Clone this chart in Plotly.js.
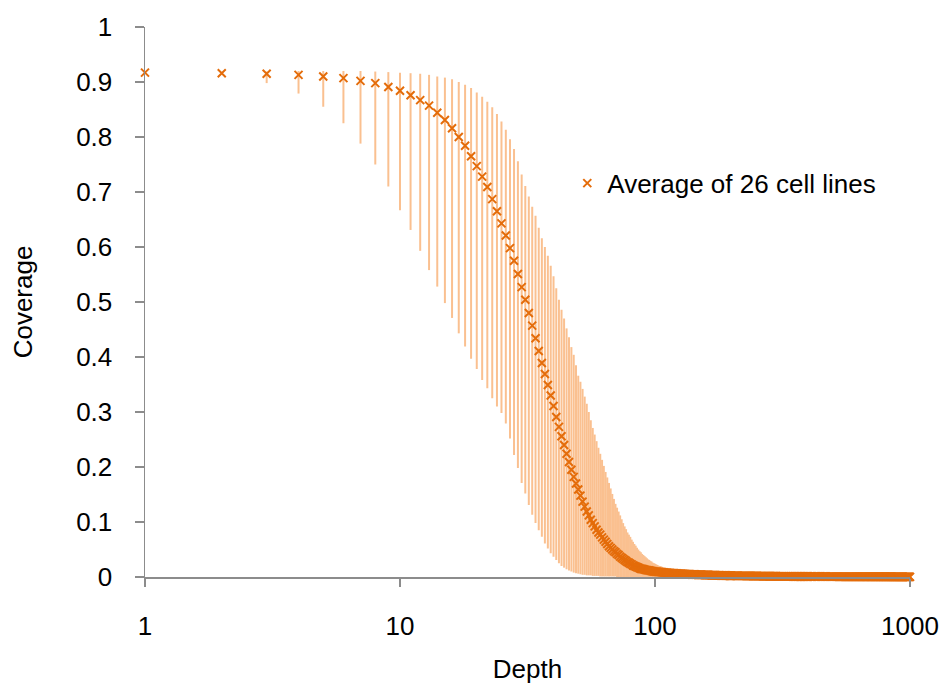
<!DOCTYPE html>
<html>
<head>
<meta charset="utf-8">
<script src="https://cdn.plot.ly/plotly-3.0.1.min.js"></script>
<style>
html,body{margin:0;padding:0;background:#fff;}
#chart{width:943px;height:686px;}
</style>
</head>
<body>
<div id="chart"></div>
<script>
// Sequencing depth (x, log scale)
var depth = [
1,2,3,4,5,6,7,8,9,10,11,12,13,14,15,16,17,18,19,20,
21,22,23,24,25,26,27,28,29,30,31,32,33,34,35,36,37,38,39,40,
41,42,43,44,45,46,47,48,49,50,51,52,53,54,55,56,57,58,59,60,
61,62,63,64,65,66,67,68,69,70,71,72,73,74,75,76,77,78,79,80,
81,82,83,84,85,86,87,88,89,90,91,92,93,94,95,96,97,98,99,100,
101,102,103,104,105,106,107,108,109,110,111,112,113,114,115,116,117,118,119,120,
121,122,123,124,125,126,127,128,129,130,131,132,133,134,135,136,137,138,139,140,
141,142,143,144,145,146,147,148,149,150,151,152,153,154,155,156,157,158,159,160,
161,162,163,164,165,166,167,168,169,170,171,172,173,174,175,176,177,178,179,180,
181,182,183,184,185,186,187,188,189,190,191,192,193,194,195,196,197,198,199,200,
202,204,206,208,210,212,214,216,218,220,222,224,226,228,230,232,234,236,238,240,
242,244,246,248,250,252,254,256,258,260,262,264,266,268,270,272,274,276,278,280,
282,284,286,288,290,292,294,296,298,300,302,304,306,308,310,312,314,316,318,320,
322,324,326,328,330,332,334,336,338,340,342,344,346,348,350,352,354,356,358,360,
362,364,366,368,370,372,374,376,378,380,382,384,386,388,390,392,394,396,398,400,
405,410,415,420,425,430,435,440,445,450,455,460,465,470,475,480,485,490,495,500,
505,510,515,520,525,530,535,540,545,550,555,560,565,570,575,580,585,590,595,600,
605,610,615,620,625,630,635,640,645,650,655,660,665,670,675,680,685,690,695,700,
705,710,715,720,725,730,735,740,745,750,755,760,765,770,775,780,785,790,795,800,
805,810,815,820,825,830,835,840,845,850,855,860,865,870,875,880,885,890,895,900,
905,910,915,920,925,930,935,940,945,950,955,960,965,970,975,980,985,990,995,1000
];

// Average coverage of 26 cell lines
var avgCoverage = [
0.917,0.916,0.915,0.913,0.910,0.907,0.902,0.898,0.891,0.884,
0.876,0.867,0.857,0.844,0.831,0.816,0.800,0.784,0.765,0.747,
0.728,0.709,0.687,0.665,0.643,0.621,0.598,0.575,0.551,0.527,
0.504,0.480,0.457,0.434,0.411,0.389,0.369,0.349,0.330,0.311,
0.291,0.273,0.256,0.240,0.224,0.209,0.195,0.182,0.170,0.159,
0.148,0.137,0.128,0.119,0.112,0.104,0.098,0.092,0.086,0.081,
0.077,0.072,0.068,0.064,0.060,0.056,0.053,0.050,0.047,0.045,
0.042,0.040,0.037,0.035,0.033,0.031,0.029,0.027,0.026,0.024,
0.023,0.021,0.020,0.019,0.018,0.017,0.016,0.015,0.0145,0.014,
0.0135,0.013,0.0125,0.012,0.0118,0.0115,0.011,0.0105,0.010,0.0098,
0.0096,0.0094,0.0092,0.0090,0.0088,0.0087,0.0085,0.0083,0.0082,0.0080,
0.0078,0.0077,0.0075,0.0074,0.0072,0.0071,0.0069,0.0068,0.0067,0.0066,
0.0064,0.0063,0.0062,0.0061,0.0060,0.0059,0.0058,0.0057,0.0056,0.0055,
0.0054,0.0053,0.0052,0.0051,0.0050,0.0050,0.0049,0.0048,0.0047,0.0047,
0.0046,0.0045,0.0045,0.0044,0.0043,0.0043,0.0042,0.0042,0.0041,0.0041,
0.0040,0.0040,0.0039,0.0039,0.0038,0.0038,0.0037,0.0037,0.0036,0.0036,
0.0035,0.0035,0.0034,0.0034,0.0034,0.0033,0.0033,0.0033,0.0032,0.0032,
0.0031,0.0031,0.0031,0.0030,0.0030,0.0030,0.0029,0.0029,0.0029,0.0029,
0.0028,0.0028,0.0028,0.0027,0.0027,0.0027,0.0027,0.0026,0.0026,0.0026,
0.0026,0.0025,0.0025,0.0025,0.0025,0.0024,0.0024,0.0024,0.0024,0.0024,
0.0023,0.0023,0.0023,0.0022,0.0022,0.0022,0.0021,0.0021,0.0021,0.0020,
0.0020,0.0020,0.0020,0.0019,0.0019,0.0019,0.0019,0.0018,0.0018,0.0018,
0.0018,0.0017,0.0017,0.0017,0.0017,0.0017,0.0016,0.0016,0.0016,0.0016,
0.0016,0.0015,0.0015,0.0015,0.0015,0.0015,0.0015,0.0014,0.0014,0.0014,
0.0014,0.0014,0.0014,0.0013,0.0013,0.0013,0.0013,0.0013,0.0013,0.0013,
0.0012,0.0012,0.0012,0.0012,0.0012,0.0012,0.0012,0.0012,0.0012,0.0012,
0.0011,0.0011,0.0011,0.0011,0.0011,0.0011,0.0011,0.0011,0.0011,0.0011,
0.0011,0.0011,0.0011,0.0010,0.0010,0.0010,0.0010,0.0010,0.0010,0.0010,
0.0010,0.0010,0.0010,0.0010,0.0010,0.0010,0.0010,0.0010,0.0010,0.0010,
0.0009,0.0009,0.0009,0.0009,0.0009,0.0009,0.0009,0.0009,0.0009,0.0009,
0.0009,0.0009,0.0009,0.0008,0.0008,0.0008,0.0008,0.0008,0.0008,0.0008,
0.0008,0.0008,0.0008,0.0008,0.0007,0.0007,0.0007,0.0007,0.0007,0.0007,
0.0007,0.0007,0.0007,0.0007,0.0006,0.0006,0.0006,0.0006,0.0006,0.0006,
0.0006,0.0006,0.0006,0.0006,0.0006,0.0006,0.0006,0.0006,0.0006,0.0006,
0.0005,0.0005,0.0005,0.0005,0.0005,0.0005,0.0005,0.0005,0.0005,0.0005,
0.0005,0.0005,0.0005,0.0005,0.0005,0.0005,0.0005,0.0005,0.0005,0.0005,
0.0004,0.0004,0.0004,0.0004,0.0004,0.0004,0.0004,0.0004,0.0004,0.0004,
0.0004,0.0004,0.0004,0.0004,0.0004,0.0004,0.0004,0.0004,0.0004,0.0004,
0.0004,0.0004,0.0004,0.0004,0.0004,0.0004,0.0004,0.0004,0.0004,0.0004,
0.0003,0.0003,0.0003,0.0003,0.0003,0.0003,0.0003,0.0003,0.0003,0.0003,
0.0003,0.0003,0.0003,0.0003,0.0003,0.0003,0.0003,0.0003,0.0003,0.0003,
0.0003,0.0003,0.0003,0.0003,0.0003,0.0003,0.0003,0.0003,0.0003,0.0003
];

// Highest coverage among the cell lines (top of error bar)
var maxCoverage = [
0.918,0.918,0.919,0.920,0.920,0.920,0.920,0.919,0.918,0.917,
0.916,0.915,0.913,0.910,0.908,0.905,0.900,0.895,0.889,0.881,
0.873,0.864,0.854,0.842,0.828,0.813,0.796,0.778,0.756,0.732,
0.711,0.692,0.673,0.657,0.635,0.616,0.600,0.584,0.566,0.547,
0.525,0.504,0.486,0.470,0.452,0.436,0.418,0.404,0.385,0.366,
0.355,0.342,0.328,0.315,0.300,0.285,0.271,0.259,0.247,0.235,
0.224,0.213,0.202,0.191,0.181,0.171,0.161,0.151,0.142,0.133,
0.126,0.119,0.112,0.105,0.098,0.092,0.087,0.081,0.077,0.073,
0.068,0.064,0.060,0.057,0.053,0.050,0.047,0.045,0.042,0.040,
0.038,0.036,0.034,0.032,0.031,0.029,0.028,0.026,0.025,0.024,
0.023,0.022,0.021,0.020,0.020,0.019,0.018,0.017,0.017,0.016,
0.015,0.015,0.014,0.014,0.013,0.013,0.012,0.012,0.011,0.011,
0.011,0.011,0.010,0.010,0.010,0.010,0.009,0.009,0.009,0.009,
0.008,0.008,0.008,0.008,0.008,0.008,0.007,0.007,0.007,0.007,
0.007,0.007,0.007,0.007,0.006,0.006,0.006,0.006,0.006,0.006,
0.006,0.006,0.006,0.006,0.006,0.005,0.005,0.005,0.005,0.005,
0.005,0.005,0.005,0.005,0.005,0.005,0.005,0.005,0.005,0.005,
0.005,0.005,0.005,0.004,0.004,0.004,0.004,0.004,0.004,0.004,
0.004,0.004,0.004,0.004,0.004,0.004,0.004,0.004,0.004,0.004,
0.004,0.004,0.004,0.004,0.004,0.004,0.004,0.004,0.004,0.004,
0.003,0.003,0.003,0.003,0.003,0.003,0.003,0.003,0.003,0.003,
0.003,0.003,0.003,0.003,0.003,0.003,0.003,0.003,0.003,0.003,
0.003,0.003,0.003,0.003,0.003,0.003,0.003,0.003,0.003,0.003,
0.003,0.003,0.003,0.003,0.003,0.003,0.003,0.003,0.003,0.003,
0.003,0.003,0.003,0.003,0.003,0.003,0.003,0.003,0.003,0.003,
0.002,0.002,0.002,0.002,0.002,0.002,0.002,0.002,0.002,0.002,
0.002,0.002,0.002,0.002,0.002,0.002,0.002,0.002,0.002,0.002,
0.002,0.002,0.002,0.002,0.002,0.002,0.002,0.002,0.002,0.002,
0.002,0.002,0.002,0.002,0.002,0.002,0.002,0.002,0.002,0.002,
0.002,0.002,0.002,0.002,0.002,0.002,0.002,0.002,0.002,0.002,
0.002,0.002,0.002,0.002,0.002,0.002,0.002,0.002,0.002,0.002,
0.002,0.002,0.002,0.002,0.002,0.002,0.002,0.002,0.002,0.002,
0.001,0.001,0.001,0.001,0.001,0.001,0.001,0.001,0.001,0.001,
0.001,0.001,0.001,0.001,0.001,0.001,0.001,0.001,0.001,0.001,
0.001,0.001,0.001,0.001,0.001,0.001,0.001,0.001,0.001,0.001,
0.001,0.001,0.001,0.001,0.001,0.001,0.001,0.001,0.001,0.001,
0.001,0.001,0.001,0.001,0.001,0.001,0.001,0.001,0.001,0.001,
0.001,0.001,0.001,0.001,0.001,0.001,0.001,0.001,0.001,0.001,
0.001,0.001,0.001,0.001,0.001,0.001,0.001,0.001,0.001,0.001,
0.001,0.001,0.001,0.001,0.001,0.001,0.001,0.001,0.001,0.001,
0.001,0.001,0.001,0.001,0.001,0.001,0.001,0.001,0.001,0.001,
0.001,0.001,0.001,0.001,0.001,0.001,0.001,0.001,0.001,0.001
];

// Lowest coverage among the cell lines (bottom of error bar)
var minCoverage = [
0.917,0.914,0.898,0.879,0.855,0.825,0.788,0.750,0.710,0.667,
0.631,0.593,0.558,0.528,0.498,0.471,0.443,0.419,0.397,0.378,
0.358,0.343,0.325,0.310,0.298,0.279,0.252,0.222,0.198,0.171,
0.152,0.131,0.113,0.098,0.085,0.073,0.061,0.052,0.043,0.037,
0.031,0.025,0.020,0.017,0.014,0.012,0.010,0.008,0.007,0.006,
0.005,0.004,0.004,0.003,0.003,0.003,0.002,0.002,0.002,0.002,
0.001,0.001,0.001,0.001,0.001,0.001,0.001,0.001,0.001,0.001,
0,0,0,0,0,0,0,0,0,0,0,0,0,0,0,0,0,0,0,0,
0,0,0,0,0,0,0,0,0,0,
0,0,0,0,0,0,0,0,0,0,0,0,0,0,0,0,0,0,0,0,
0,0,0,0,0,0,0,0,0,0,0,0,0,0,0,0,0,0,0,0,
0,0,0,0,0,0,0,0,0,0,0,0,0,0,0,0,0,0,0,0,
0,0,0,0,0,0,0,0,0,0,0,0,0,0,0,0,0,0,0,0,
0,0,0,0,0,0,0,0,0,0,0,0,0,0,0,0,0,0,0,0,
0,0,0,0,0,0,0,0,0,0,0,0,0,0,0,0,0,0,0,0,
0,0,0,0,0,0,0,0,0,0,0,0,0,0,0,0,0,0,0,0,
0,0,0,0,0,0,0,0,0,0,0,0,0,0,0,0,0,0,0,0,
0,0,0,0,0,0,0,0,0,0,0,0,0,0,0,0,0,0,0,0,
0,0,0,0,0,0,0,0,0,0,0,0,0,0,0,0,0,0,0,0,
0,0,0,0,0,0,0,0,0,0,0,0,0,0,0,0,0,0,0,0,
0,0,0,0,0,0,0,0,0,0,0,0,0,0,0,0,0,0,0,0,
0,0,0,0,0,0,0,0,0,0,0,0,0,0,0,0,0,0,0,0,
0,0,0,0,0,0,0,0,0,0,0,0,0,0,0,0,0,0,0,0,
0,0,0,0,0,0,0,0,0,0,0,0,0,0,0,0,0,0,0,0,
0,0,0,0,0,0,0,0,0,0,0,0,0,0,0,0,0,0,0,0,
0,0,0,0,0,0,0,0,0,0,0,0,0,0,0,0,0,0,0,0
];

var xTickVals = [1, 10, 100, 1000];
var xTickText = ['1', '10', '100', '1000'];

var errPlus = maxCoverage.map(function (v, i) { return Math.max(0, v - avgCoverage[i]); });
var errMinus = minCoverage.map(function (v, i) { return Math.max(0, avgCoverage[i] - v); });

var FONT = '"Liberation Sans", Arial, sans-serif';
var ORANGE = '#E46C0A';
var LIGHT = '#FAC090';

var trace = {
  type: 'scatter',
  mode: 'markers',
  name: 'Average of 26 cell lines',
  x: depth,
  y: avgCoverage,
  cliponaxis: false,
  marker: {
    symbol: 'x-thin',
    size: 8,
    color: ORANGE,
    line: {color: ORANGE, width: 2}
  },
  error_y: {
    type: 'data',
    symmetric: false,
    array: errPlus,
    arrayminus: errMinus,
    color: LIGHT,
    thickness: 2,
    width: 0
  }
};

var layout = {
  width: 943,
  height: 686,
  margin: {l: 145, r: 33, t: 27, b: 109},
  paper_bgcolor: '#ffffff',
  plot_bgcolor: '#ffffff',
  font: {family: FONT, size: 26, color: '#000000'},
  showlegend: true,
  legend: {
    x: 0.552, y: 0.716, xanchor: 'left', yanchor: 'middle',
    bgcolor: 'rgba(0,0,0,0)',
    font: {family: FONT, size: 26, color: '#000000'}
  },
  xaxis: {
    type: 'log',
    range: [0, 3],
    tickmode: 'array',
    tickvals: xTickVals,
    ticktext: xTickText,
    ticks: 'outside',
    ticklen: 8,
    tickwidth: 1.5,
    tickcolor: '#8c8c8c',
    showline: true,
    linecolor: '#8c8c8c',
    linewidth: 1.5,
    showgrid: false,
    zeroline: false,
    ticklabelstandoff: 17,
    tickfont: {family: FONT, size: 26, color: '#000000'},
    title: {text: 'Depth', font: {family: FONT, size: 26, color: '#000000'}, standoff: 20}
  },
  yaxis: {
    range: [0, 1],
    tick0: 0,
    dtick: 0.1,
    ticks: 'outside',
    ticklen: 9,
    tickwidth: 1.5,
    tickcolor: '#8c8c8c',
    showline: true,
    linecolor: '#8c8c8c',
    linewidth: 1.5,
    showgrid: false,
    zeroline: false,
    ticklabelstandoff: 17,
    tickfont: {family: FONT, size: 26, color: '#000000'},
    title: {text: 'Coverage', font: {family: FONT, size: 26, color: '#000000'}, standoff: 36}
  }
};

Plotly.newPlot('chart', [trace], layout, {displayModeBar: false, staticPlot: true});
</script>
</body>
</html>
